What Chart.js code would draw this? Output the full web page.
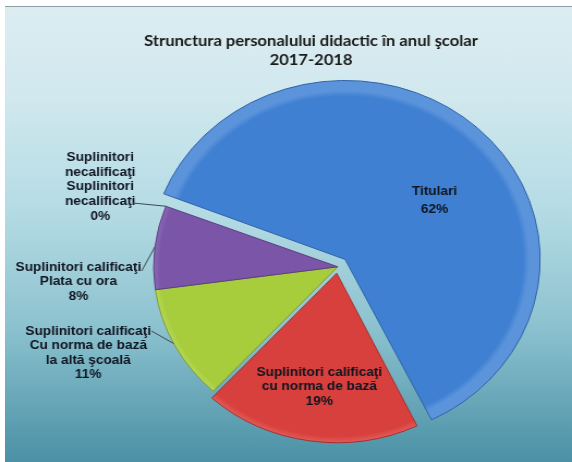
<!DOCTYPE html>
<html>
<head>
<meta charset="utf-8">
<script src="https://cdn.jsdelivr.net/npm/chart.js@4.4.0/dist/chart.umd.min.js"></script>
<style>
  html, body { margin: 0; padding: 0; background: #fff; overflow: hidden; }
  #frame {
    position: absolute; left: 5px; top: 6px; width: 567px; height: 456px;
    border-top: 1px solid #8d9ea3;
    background: linear-gradient(to bottom, #dcedf2 0%, #d0e8ee 20%, #b4dbe4 45%, #8cc2cf 70%, #4a90a5 100%);
  }
  /* the original picture is stretched sideways, so the chart is too */
  #wrap { position: absolute; left: 0; top: 0; width: 525px; height: 462px;
    transform: scaleX(1.0895); transform-origin: 0 0; }
</style>
</head>
<body>
<div id="frame"></div>
<div id="wrap"><canvas id="chart" width="525" height="462"></canvas></div>
<script>
const titleLines = ['Strunctura personalului didactic în anul şcolar', '2017-2018']
const categories = [
  'Titulari',
  'Suplinitori calificaţi cu norma de bază',
  'Suplinitori calificaţi Cu norma de bază la altă şcoală',
  'Suplinitori calificaţi Plata cu ora',
  'Suplinitori necalificaţi'
]
const values = [62, 19, 11, 8, 0]
const labelLines = [
  ['Titulari'],
  ['Suplinitori calificaţi', 'cu norma de bază'],
  ['Suplinitori calificaţi', 'Cu norma de bază', 'la altă şcoală'],
  ['Suplinitori calificaţi', 'Plata cu ora'],
  ['Suplinitori', 'necalificaţi', 'Suplinitori', 'necalificaţi']
]
const sliceColors = ['#3f80d2', '#d8403d', '#a7cd3c', '#7b55a8', '#4bacc6']
const sliceRims = ['#5c94dc', '#e05a57', '#b7d85c', '#8b6ab6', '#6bbcd2']
const sliceBorders = ['#2f62a8', '#a52f2d', '#7f9c2c', '#5b3e80', '#35819a']
const sliceOffsets = [40, 26, 0, 0, 0]

// where each label sits: inside = polar spot in the slice, otherwise text centre + leader line
const labelPlaces = [
  { inside: true, at: 0.558, r: 0.54, gap: 18 },
  { inside: true, at: 0.494, r: 0.676, gap: 14.5 },
  { x: 81, y: 353, gap: 14.5, lead: { x: 139, y: 331, at: 0.515 } },
  { x: 72, y: 282, gap: 14.2, lead: { x: 130, y: 271, at: 0.507 } },
  { x: 92, y: 187, gap: 14.7, lead: { x: 122, y: 203, at: 0 } }
]

function arcShift(arc) {
  // same translation that ArcElement.draw applies for the offset
  const off = (arc.options.offset || 0) / 4
  const circ = arc.endAngle - arc.startAngle
  const fix = 1 - Math.sin(Math.min(Math.PI, circ || 0))
  const mid = (arc.startAngle + arc.endAngle) / 2
  const d = off + off * fix
  return { x: Math.cos(mid) * d, y: Math.sin(mid) * d }
}

function sliceFill(context) {
  const i = context.dataIndex
  const area = context.chart.chartArea
  if (!area) return sliceColors[i]
  const cx = (area.left + area.right) / 2
  const cy = (area.top + area.bottom) / 2
  const g = context.chart.ctx.createRadialGradient(cx, cy, 0, cx, cy, 169)
  g.addColorStop(0, sliceColors[i])
  g.addColorStop(0.965, sliceColors[i])
  g.addColorStop(1, sliceRims[i])
  return g
}

const sliceLabels = {
  id: 'sliceLabels',
  afterLayout(chart) {
    // title sits a bit left of the pie centre in the original
    chart.titleBlock.left -= 24.5
    chart.titleBlock.right -= 24.5
  },
  afterDatasetsDraw(chart) {
    const ctx = chart.ctx
    const arcs = chart.getDatasetMeta(0).data
    const total = values.reduce((a, b) => a + b, 0)
    ctx.save()
    ctx.font = 'bold 12.5px "Liberation Sans", Arial, sans-serif'
    ctx.textAlign = 'center'
    ctx.textBaseline = 'middle'
    ctx.fillStyle = '#0f1420'
    ctx.strokeStyle = '#3c4a50'
    ctx.lineWidth = 1
    arcs.forEach((arc, i) => {
      const place = labelPlaces[i]
      const lines = labelLines[i].concat(Math.round(values[i] / total * 100) + '%')
      const s = arcShift(arc)
      let x = place.x, y = place.y
      if (place.inside) {
        const a = arc.startAngle + (arc.endAngle - arc.startAngle) * place.at
        x = arc.x + s.x + Math.cos(a) * arc.outerRadius * place.r
        y = arc.y + s.y + Math.sin(a) * arc.outerRadius * place.r
      }
      lines.forEach((t, k) => ctx.fillText(t, x, y + (k - (lines.length - 1) / 2) * place.gap))
      if (place.lead) {
        const a = arc.startAngle + (arc.endAngle - arc.startAngle) * place.lead.at
        const ex = arc.x + s.x + Math.cos(a) * arc.outerRadius
        const ey = arc.y + s.y + Math.sin(a) * arc.outerRadius
        ctx.beginPath()
        ctx.moveTo(place.lead.x, place.lead.y)
        ctx.lineTo(ex, ey)
        ctx.stroke()
      }
    })
    ctx.restore()
  }
}

new Chart(document.getElementById('chart'), {
  type: 'pie',
  data: {
    labels: categories,
    datasets: [{
      data: values,
      backgroundColor: sliceFill,
      borderColor: sliceBorders,
      borderWidth: 1,
      offset: sliceOffsets,
      clip: false
    }]
  },
  options: {
    responsive: false,
    animation: false,
    rotation: 291,
    radius: 169,
    layout: { padding: { left: 95, right: 0, top: 0, bottom: 8.4 } },
    plugins: {
      legend: { display: false },
      tooltip: { enabled: false },
      title: {
        display: true,
        text: titleLines,
        color: '#1a1a1a',
        font: { family: 'Lato', size: 15.2, weight: 'bold', lineHeight: 1.25 },
        padding: { top: 32, bottom: 10 }
      }
    }
  },
  plugins: [sliceLabels]
})
</script>
</body>
</html>
